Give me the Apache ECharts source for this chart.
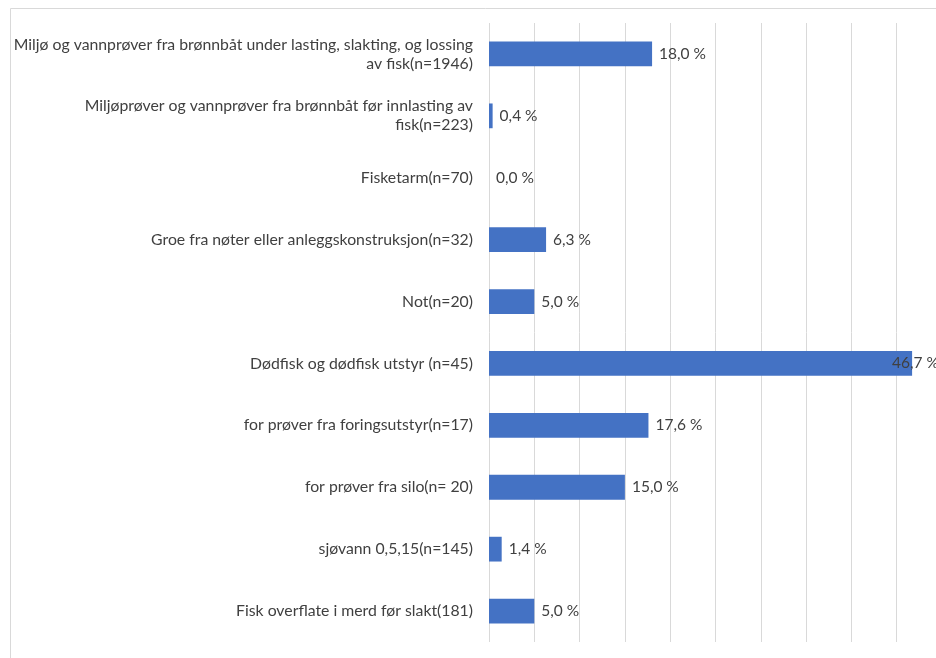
<!DOCTYPE html>
<html>
<head>
<meta charset="utf-8">
<script src="https://cdn.jsdelivr.net/npm/echarts@6/dist/echarts.min.js"></script>
<style>
html,body{margin:0;padding:0;background:#fff;overflow:hidden;width:936px;height:658px;}
#c{width:960px;height:658px;}
</style>
</head>
<body>
<div id="c"></div>
<script>
const categories = [
  'Miljø og vannprøver fra brønnbåt under lasting, slakting, og lossing\nav fisk(n=1946)',
  'Miljøprøver og vannprøver fra brønnbåt før innlasting av\nfisk(n=223)',
  'Fisketarm(n=70)',
  'Groe fra nøter eller anleggskonstruksjon(n=32)',
  'Not(n=20)',
  'Dødfisk og dødfisk utstyr (n=45)',
  'for prøver fra foringsutstyr(n=17)',
  'for prøver fra silo(n= 20)',
  'sjøvann 0,5,15(n=145)',
  'Fisk overflate i merd før slakt(181)'
];
const values = [18.0, 0.4, 0.0, 6.3, 5.0, 46.7, 17.6, 15.0, 1.4, 5.0];
const axisMin = 0, axisMax = 50, axisInterval = 5;

const chart = echarts.init(document.getElementById('c'));
const seriesData = values.map(v => v > 45
  ? { value: v, label: { offset: [-27, 0] } }
  : { value: v });

chart.setOption({
  animation: false,
  graphic: [{
    type: 'rect',
    shape: { x: 10.5, y: 8.5, width: 1000, height: 700 },
    style: { fill: 'none', stroke: '#d9d9d9', lineWidth: 1 },
    silent: true
  }],
  grid: { left: 489, top: 23, width: 453, height: 619, containLabel: false },
  xAxis: {
    type: 'value', min: axisMin, max: axisMax, interval: axisInterval,
    axisLabel: { show: false },
    axisLine: { show: false },
    axisTick: { show: false },
    splitLine: { show: true, lineStyle: { color: '#d9d9d9', width: 1 } }
  },
  yAxis: {
    type: 'category', data: categories, inverse: true,
    axisLine: { show: false },
    axisTick: { show: false },
    axisLabel: {
      margin: 16, color: '#404040', fontFamily: 'Lato', fontSize: 15.8,
      lineHeight: 19, align: 'right'
    }
  },
  series: [{
    type: 'bar', data: seriesData, barCategoryGap: '60%',
    itemStyle: { color: '#4472C4' },
    label: {
      show: true, position: 'right', distance: 7,
      color: '#404040', fontFamily: 'Lato', fontSize: 15.5,
      formatter: p => p.value.toFixed(1).replace('.', ',') + ' %'
    }
  }]
});
</script>
</body>
</html>
